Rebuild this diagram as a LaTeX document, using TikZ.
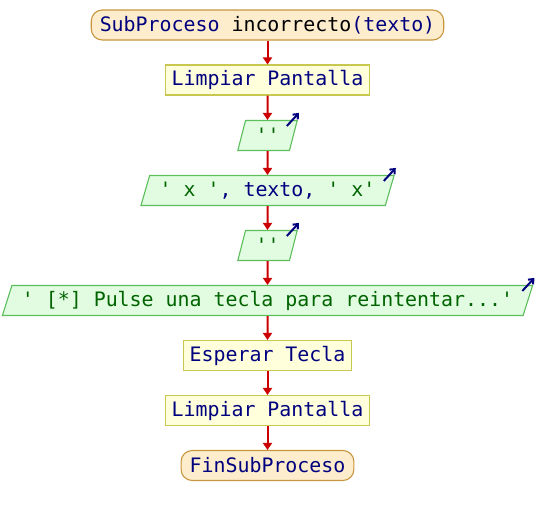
\documentclass[tikz,border=0pt]{standalone}
\usepackage{fontspec}
\setmonofont{DejaVu Sans Mono}
\usetikzlibrary{shapes.geometric,arrows.meta}
\definecolor{kw}{HTML}{00007F}
\definecolor{str}{HTML}{006400}
\definecolor{flowred}{HTML}{CC0000}
\definecolor{termfill}{HTML}{FDEDCC}
\definecolor{termline}{HTML}{C8963E}
\definecolor{procfill}{HTML}{FFFFDC}
\definecolor{procline}{HTML}{C8C850}
\definecolor{iofill}{HTML}{E2FCE2}
\definecolor{ioline}{HTML}{5CBF5C}
\newcommand{\qt}{\textquotesingle}

\begin{document}
\begin{tikzpicture}[x=1pt, y=-1pt,
      every node/.style={font=\ttfamily\fontsize{19.9}{22}\selectfont, text=kw, minimum height=30pt, line width=1.1pt},
      term/.style={draw=termline, fill=termfill, rounded corners=11pt, inner xsep=8.5pt},
      proc/.style={draw=procline, fill=procfill, inner xsep=6pt},
      io/.style={trapezium, trapezium left angle=70, trapezium right angle=110, trapezium stretches,
        draw=ioline, fill=iofill, inner xsep=10pt},
      flow/.style={draw=flowred, line width=2pt, -{Triangle[width=9pt,length=7pt]}},
      outmark/.style={draw=kw, line width=2pt, -{Straight Barb[length=4pt,width=7pt]}}]
    \fill[white] (0,0) rectangle (536,515);
    \useasboundingbox (0,0) rectangle (536,515);
    \node[term] (sub)  at (267.5,25)    {SubProceso \textcolor{black}{incorrecto}(texto)};
    \node[proc] (cls1) at (267.5,80)    {Limpiar Pantalla};
    \node[io]   (out1) at (267.5,135.5) {\textcolor{str}{\qt\qt}};
    \node[io]   (out2) at (267.5,190.5) {\textcolor{str}{\qt{} x \qt}, texto, \textcolor{str}{\qt{} x\qt}};
    \node[io]   (out3) at (267.5,245.5) {\textcolor{str}{\qt\qt}};
    \node[io]   (out4) at (267.5,300.5) {\textcolor{str}{\qt{} [*] Pulse una tecla para reintentar...\qt}};
    \node[proc] (wait) at (267.5,355.5) {Esperar Tecla};
    \node[proc] (cls2) at (267.5,410.5) {Limpiar Pantalla};
    \node[term] (fin)  at (267.5,465.5) {FinSubProceso};
    \foreach \a/\b in {sub/cls1, cls1/out1, out1/out2, out2/out3, out3/out4, out4/wait, wait/cls2, cls2/fin}
      \draw[flow] (\a.south) -- (\b.north);
    \foreach \n in {out1,out2,out3,out4}
      \draw[outmark] ([shift={(-11,6)}]\n.top right corner) -- ++(12,-13);
  \end{tikzpicture}
\end{document}
